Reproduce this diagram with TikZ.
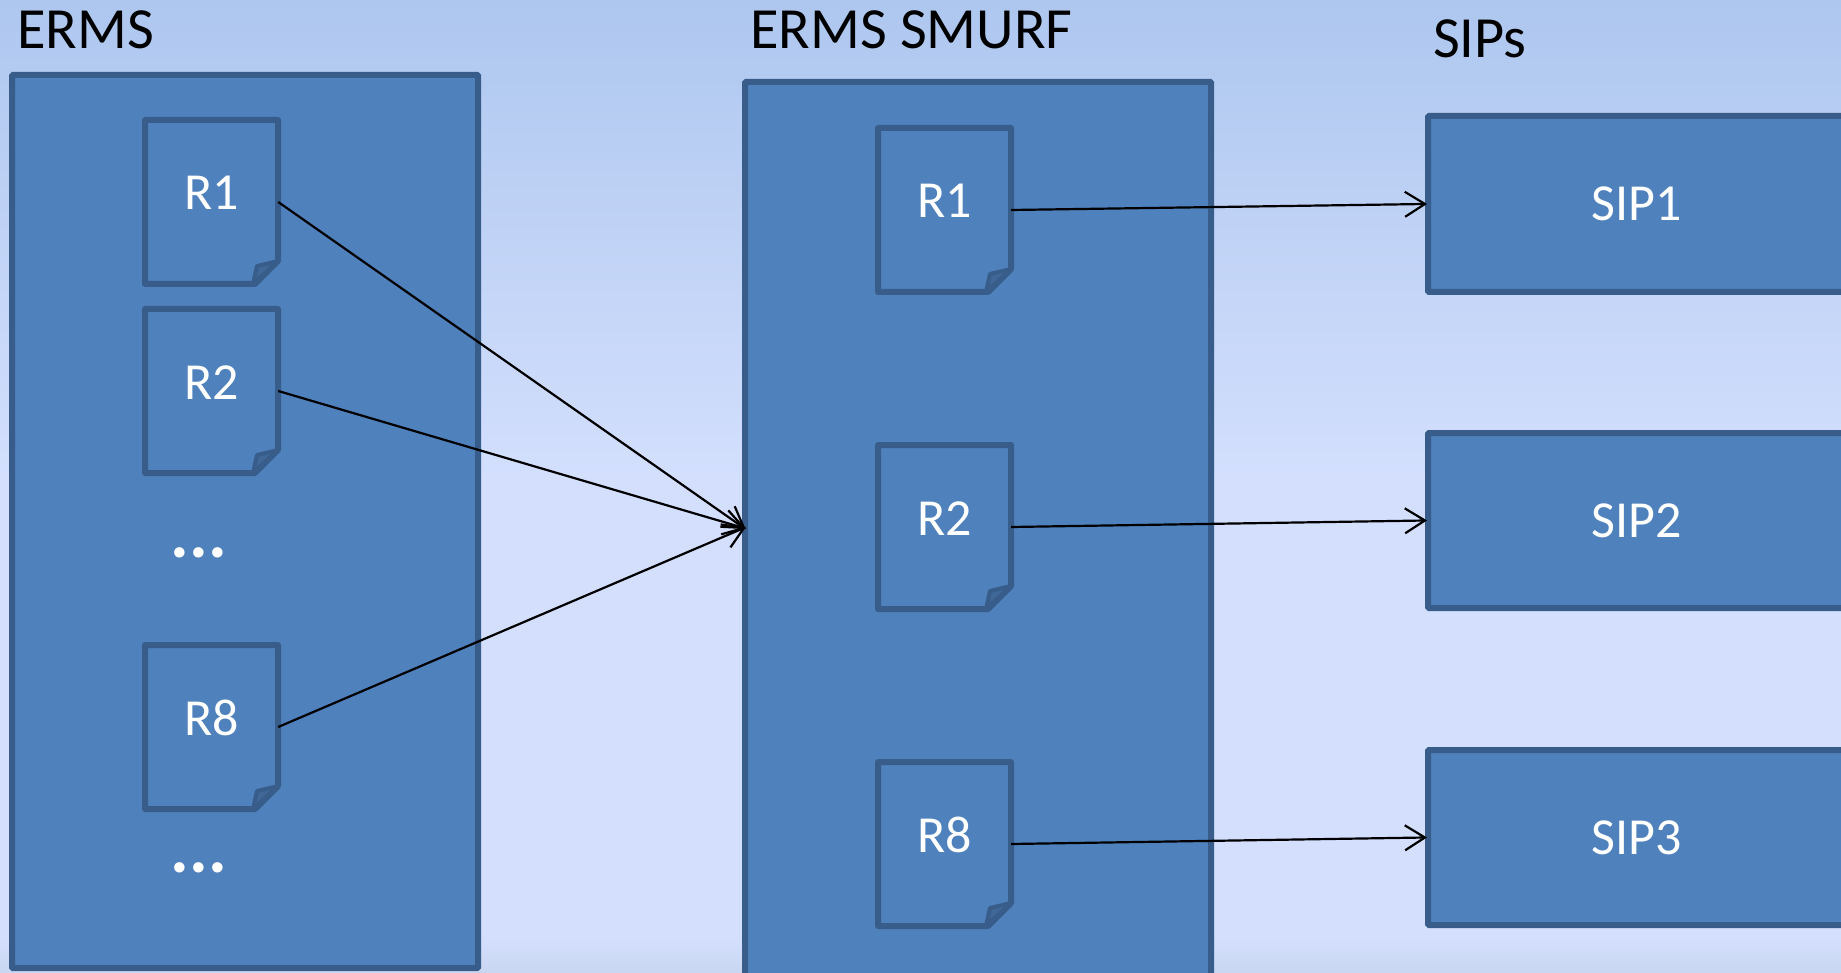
\documentclass[tikz,border=0pt]{standalone}
\usepackage{fontspec}
\setmainfont{Carlito}
\usetikzlibrary{arrows.meta}
\definecolor{boxfill}{HTML}{4F81BD}
\definecolor{boxline}{HTML}{385D8A}
\definecolor{foldfill}{HTML}{3F6797}
\definecolor{bgtop}{HTML}{AEC7EF}
\definecolor{bgmid}{HTML}{D3DFFD}
\definecolor{bgbot}{HTML}{C9D6F1}
\tikzset{
  x=1pt,y=-1pt,
  panel/.style={draw=boxline,fill=boxfill,line width=6pt,rounded corners=1pt,inner sep=0pt,minimum width=#1},
  doc/.style={draw=boxline,fill=boxfill,line width=6pt,line join=round},
  fold/.style={draw=boxline,fill=foldfill,line width=4pt,line join=round},
  dochook/.style={inner sep=0pt,minimum width=133pt,minimum height=164pt},
  doclabel/.style={anchor=base,text=white,font=\fontsize{52}{60}\selectfont},
  siplabel/.style={text=white,font=\fontsize{52}{60}\selectfont},
  title/.style={anchor=base west,text=black,inner sep=0pt,font=\fontsize{58.3}{66}\selectfont},
  dots/.style={anchor=base,text=white,font=\bfseries\fontsize{70}{76}\selectfont},
  link/.style={draw=black,line width=2.2pt,-{Straight Barb[length=20pt,width=25pt,line width=2.2pt]},shorten >=-2pt},
}
\newcommand{\docshape}[4]{% name, left x, top y, label
  \draw[doc] (#2,#3) -- ++(133,0) -- ++(0,141) -- ++(-23,23) -- ++(-110,0) -- cycle;
  \draw[fold] (#2+133,#3+141) -- (#2+112,#3+146) -- (#2+108,#3+164) -- cycle;
  \node[dochook] (#1) at (#2+66.5,#3+82) {};
  \node[doclabel] (#1t) at (#2+67,#3+90) {#4};
}
\begin{document}
\begin{tikzpicture}
\useasboundingbox (0,0) rectangle (1841,973);
\clip (0,0) rectangle (1841,973);
\shade[top color=bgtop,bottom color=bgmid] (0,0) rectangle (1841,480);
\fill[bgmid] (0,479) rectangle (1841,940);
\shade[top color=bgmid,bottom color=bgbot] (0,939) rectangle (1841,973);

\node[title] (erms) at (17,49) {ERMS};
\node[title] (smurf) at (750,49) {ERMS SMURF};
\node[title] (sips) at (1433,58) {SIPs};

\path[panel=466pt] (12,75) rectangle (478,968);
\path[panel=467pt] (745,82) rectangle (1211,1000);

\docshape{la}{145}{120}{R1}
\docshape{lb}{145}{309}{R2}
\docshape{lc}{145}{645}{R8}
\node[dots] (dota) at (199,557) {...};
\node[dots] (dotb) at (199,872) {...};

\docshape{ma}{878}{128}{R1}
\docshape{mb}{878}{445}{R2}
\docshape{mc}{878}{762}{R8}

\node[panel=418pt,minimum height=176pt,siplabel] (sa) at (1637,204) {\raisebox{-2pt}{SIP1}};
\node[panel=418pt,minimum height=175pt,siplabel] (sb) at (1637,520.5) {\raisebox{-2pt}{SIP2}};
\node[panel=418pt,minimum height=175pt,siplabel] (sc) at (1637,837.5) {\raisebox{-2pt}{SIP3}};

\coordinate (hub) at (744,528);
\draw[link] (la.east) -- (hub);
\draw[link] (lb.east) -- (hub);
\draw[link] (lc.east) -- (hub);
\draw[link] (ma.east) -- (sa.west);
\draw[link] (mb.east) -- (sb.west);
\draw[link] (mc.east) -- (sc.west);
\end{tikzpicture}
\end{document}
